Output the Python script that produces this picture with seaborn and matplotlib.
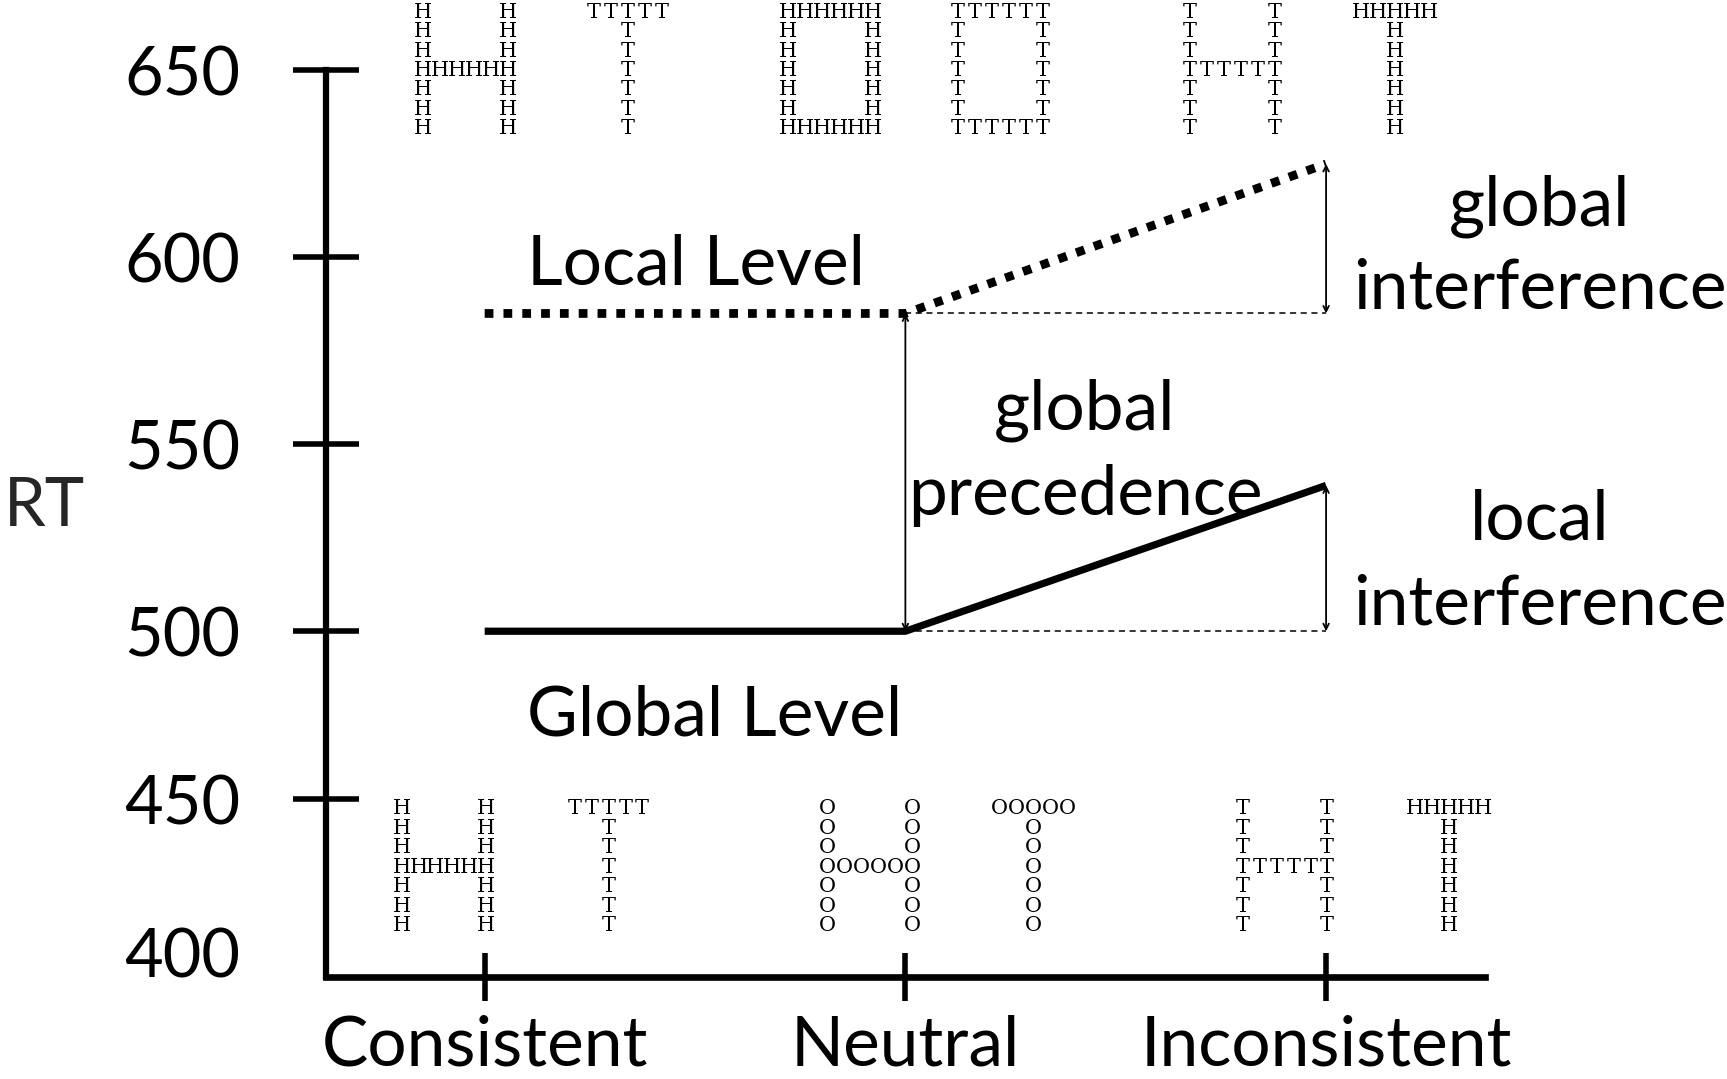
import numpy as np
import pandas as pd
import matplotlib
matplotlib.use("Agg")
import matplotlib.pyplot as plt
import seaborn as sns

# data
conditions = ["Consistent", "Neutral", "Inconsistent"]
local_rt = [585, 585, 625]
global_rt = [500, 500, 539]
ytick_pos = [650, 600, 550, 500, 455, 414]
ytick_labels = ["650", "600", "550", "500", "450", "400"]

# stimuli: (global shape, local letter)
top_stimuli = [("H", "H"), ("T", "T"), ("O", "H"), ("O", "T"), ("H", "T"), ("T", "H")]
bottom_stimuli = [("H", "H"), ("T", "T"), ("H", "O"), ("T", "O"), ("H", "T"), ("T", "H")]
top_x = [-0.045, 0.34, 0.822, 1.226, 1.777, 2.164]
bottom_x = [-0.097, 0.294, 0.916, 1.304, 1.902, 2.292]

shapes = {
    "H": ["X    X", "X    X", "X    X", "XXXXXX", "X    X", "X    X", "X    X"],
    "T": ["XXXXX", "  X  ", "  X  ", "  X  ", "  X  ", "  X  ", "  X  "],
    "O": ["XXXXXX", "X    X", "X    X", "X    X", "X    X", "X    X", "XXXXXX"],
}

df = pd.DataFrame({
    "condition": conditions * 2,
    "RT": local_rt + global_rt,
    "level": ["Local"] * 3 + ["Global"] * 3,
})

sns.set_style("white")
plt.rcParams["font.family"] = ["Lato", "DejaVu Sans"]

fig = plt.figure(figsize=(17.27, 10.79), dpi=100)
ax = fig.add_axes([0.1888, 0.0945, 0.6709, 0.8402])

sns.lineplot(data=df[df.level == "Local"], x="condition", y="RT", ax=ax,
             color="black", lw=6.3, linestyle=(0, (1, 1.15)), sort=False)
sns.lineplot(data=df[df.level == "Global"], x="condition", y="RT", ax=ax,
             color="black", lw=5.2, sort=False, solid_capstyle="butt")

ax.set_xlim(-0.377, 2.377)
ax.set_ylim(407.5, 650)

for s in ["top", "right"]:
    ax.spines[s].set_visible(False)
ax.spines["left"].set_linewidth(4.5)
ax.spines["bottom"].set_linewidth(4.8)
ax.spines["left"].set_color("black")
ax.spines["bottom"].set_color("black")

ax.set_yticks(ytick_pos)
ax.set_yticklabels(ytick_labels)
ax.tick_params(axis="y", direction="inout", length=47, width=4, pad=38,
               labelsize=48, colors="black", left=True)
ax.tick_params(axis="x", direction="inout", length=34, width=4, pad=10,
               labelsize=50, colors="black", bottom=True)
ax.yaxis.get_major_ticks()[-1].tick1line.set_visible(False)
ax.set_xlabel("")
ax.set_ylabel("RT", rotation=0, fontsize=48, va="center", ha="center")
ax.yaxis.set_label_coords(-0.243, 0.519)

# connectors
ax.hlines([local_rt[1], global_rt[1]], 1, 2, colors="black", lw=1.1,
          linestyles=(0, (4, 3)))
arrow = dict(arrowstyle="<->", color="black", lw=1.3, shrinkA=0, shrinkB=0)
ax.annotate("", xy=(1, local_rt[1]), xytext=(1, global_rt[1]), arrowprops=arrow)
ax.annotate("", xy=(2, local_rt[2]), xytext=(2, local_rt[1]), arrowprops=arrow)
ax.annotate("", xy=(2, global_rt[2]), xytext=(2, global_rt[1]), arrowprops=arrow)

tkw = dict(fontsize=50, color="black", va="baseline", clip_on=False)
ax.text(0.0995, 592.8, "Local Level", ha="left", **tkw)
ax.text(0.0995, 472, "Global Level", ha="left", **tkw)
ax.text(1.427, 553.9, "global", ha="center", **tkw)
ax.text(1.427, 531.2, "precedence", ha="center", **tkw)
ax.text(2.508, 608.5, "global", ha="center", **tkw)
ax.text(2.508, 586.4, "interference", ha="center", **tkw)
ax.text(2.508, 524.5, "local", ha="center", **tkw)
ax.text(2.508, 501.8, "interference", ha="center", **tkw)


def draw_stim(x, y, shape, letter, col_pt=12.2, row_pt=14.0):
    rows = shapes[shape]
    ncol = max(len(r) for r in rows)
    for i, row in enumerate(rows):
        for j, ch in enumerate(row):
            if ch == " ":
                continue
            ax.annotate(letter, xy=(x, y), xycoords="data",
                        xytext=((j - (ncol - 1) / 2) * col_pt, -i * row_pt),
                        textcoords="offset points", ha="center", va="center",
                        fontsize=15, family="DejaVu Serif", color="black",
                        annotation_clip=False)


for (shape, letter), x in zip(top_stimuli, top_x):
    draw_stim(x, 665.6, shape, letter)
for (shape, letter), x in zip(bottom_stimuli, bottom_x):
    draw_stim(x, 452.5, shape, letter)

fig.savefig("out.png", dpi=100)
